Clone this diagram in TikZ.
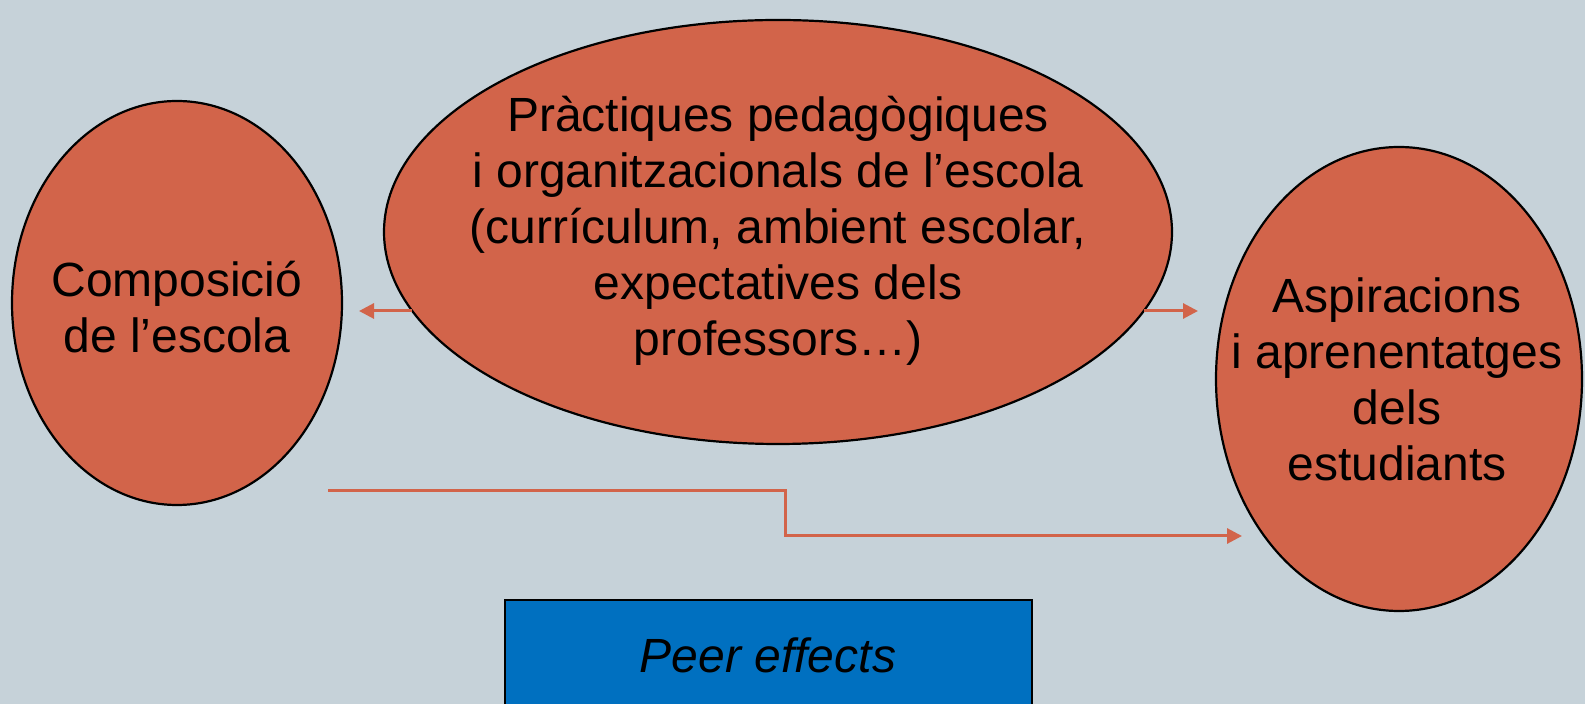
\documentclass[tikz,border=0pt]{standalone}
\usepackage{fontspec}
\setmainfont{Liberation Sans}
\usetikzlibrary{arrows.meta,shapes.geometric}
\definecolor{bgblue}{HTML}{C6D2D9}
\definecolor{brick}{HTML}{D2644A}
\definecolor{boxblue}{HTML}{0070C0}

\begin{document}
\begin{tikzpicture}[x=0.5pt, y=-0.5pt,
		bubble/.style={ellipse, draw=black, line width=1.1pt, fill=brick, inner sep=0pt, outer sep=0pt},
		label/.style={align=center, font=\fontsize{24}{28}\selectfont, inner sep=0pt},
		link/.style={draw=brick, line width=1.5pt, -{Triangle[length=7.5pt,width=7.5pt]}}]
			%%%%% START %%%%%
			\fill[bgblue] (0, 0) rectangle (1585, 704);
			\useasboundingbox (0, 0) rectangle (1585, 704);
			\clip (0, 0) rectangle (1585, 704);
			
			% bubbles
			\node[bubble, minimum width=165pt, minimum height=202pt] (comp) at (177, 303) {};
			\node[bubble, minimum width=394pt, minimum height=212pt] (prac) at (778, 232) {};
			\node[bubble, minimum width=183pt, minimum height=232pt] (aspi) at (1399, 379) {};
			
			\node[label] (comptext) at (177, 307) {Composició\\de l’escola};
			\node[label] (practext) at (778, 231) {Pràctiques pedagògiques\\i organitzacionals de l’escola\\(currículum, ambient escolar,\\expectatives dels\\professors…)};
			\node[label] (aspitext) at (1397, 379) {Aspiracions\\i aprenentatges\\dels\\estudiants};
			
			% peer effects box
			\node[draw=black, line width=1pt, fill=boxblue, minimum width=263.5pt, minimum height=55pt,
				font=\fontsize{24}{28}\selectfont\itshape] (peer) at (768, 655) {Peer effects};
			
			% arrows
			\coordinate (compend) at (359, 311);
			\coordinate (aspiend) at (1198, 311);
			\draw[link] (prac.192 |- compend) -- (compend);
			\draw[link] (prac.348 |- aspiend) -- (aspiend);
			
			\coordinate (peerstart) at (328, 491);
			\coordinate (peerbend) at (785, 513);
			\coordinate (peerend) at (1242, 536);
			\draw[link] (peerstart) -| (peerbend) |- (peerend);
			%%%%% END %%%%%
		\end{tikzpicture}
\end{document}
